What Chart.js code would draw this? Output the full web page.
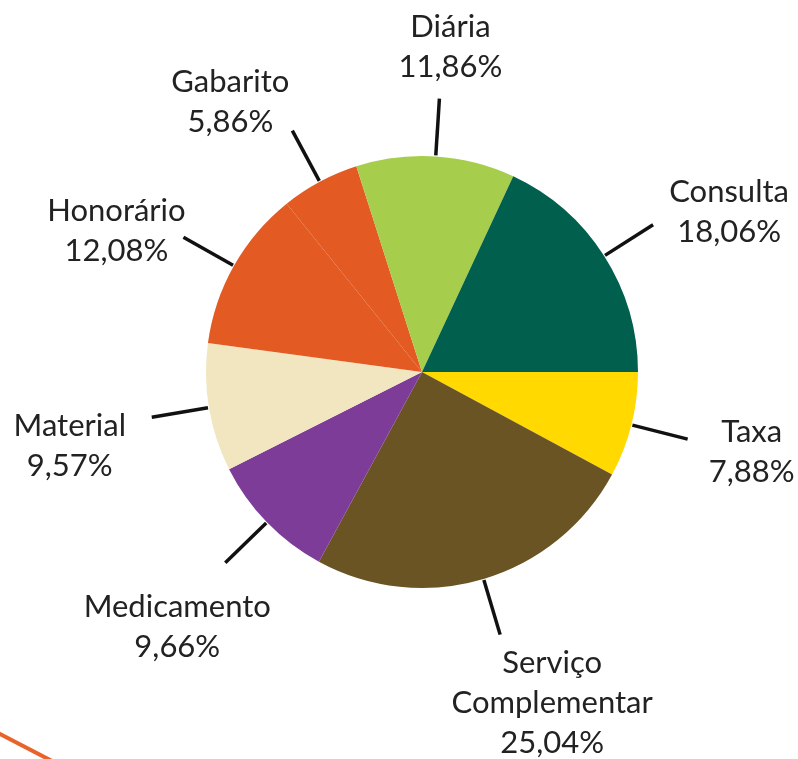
<!DOCTYPE html>
<html lang="pt">
<head>
<meta charset="utf-8">
<title>Distribuição de despesas</title>
<script src="https://cdn.jsdelivr.net/npm/chart.js@4.4.1/dist/chart.umd.min.js"></script>
<style>
    html, body { margin: 0; padding: 0; background: #fff; }
    #wrap { width: 798px; height: 759px; }
</style>
</head>
<body>
<div id="wrap"><canvas id="pieChart" width="798" height="759"></canvas></div>
<script>
// categories in drawing order, clockwise from 3 o'clock
const categories = ['Taxa', 'Serviço Complementar', 'Medicamento', 'Material', 'Honorário', 'Gabarito', 'Diária', 'Consulta'];
const shares = [7.88, 25.04, 9.66, 9.57, 12.08, 5.86, 11.86, 18.06];
const shareLabels = ['7,88%', '25,04%', '9,66%', '9,57%', '12,08%', '5,86%', '11,86%', '18,06%'];
const sliceColors = ['#FFD900', '#6B5424', '#7D3C98', '#F1E6BF', '#E35A23', '#E35A23', '#A7CD4C', '#00604D'];

// text lines for each label
const labelLines = [
    ['Taxa'],
    ['Serviço', 'Complementar'],
    ['Medicamento'],
    ['Material'],
    ['Honorário'],
    ['Gabarito'],
    ['Diária'],
    ['Consulta']
];

// where each text block sits, relative to the end of its leader line
const labelOffsets = [
    [64, 13], [52, 68], [-48, 64], [-82, 29],
    [-67, -6], [-62, -29], [11, -52], [76, -13]
];

const leaderLabels = {
    id: 'leaderLabels',
    afterDraw(chart) {
        const ctx = chart.ctx;
        const arcs = chart.getDatasetMeta(0).data;
        const lineHeight = 40;
        ctx.save();
        arcs.forEach((arc, i) => {
            const p = arc.getProps(['x', 'y', 'startAngle', 'endAngle', 'outerRadius'], true);
            const mid = (p.startAngle + p.endAngle) / 2;
            const r1 = p.outerRadius + 1;
            const r2 = p.outerRadius + 58;
            const ex = p.x + Math.cos(mid) * r2;
            const ey = p.y + Math.sin(mid) * r2;

            ctx.strokeStyle = '#111';
            ctx.lineWidth = 3.5;
            ctx.beginPath();
            ctx.moveTo(p.x + Math.cos(mid) * r1, p.y + Math.sin(mid) * r1);
            ctx.lineTo(ex, ey);
            ctx.stroke();

            const lines = labelLines[i].concat([shareLabels[i]]);
            const cx = ex + labelOffsets[i][0];
            const cy = ey + labelOffsets[i][1];
            ctx.fillStyle = '#222';
            ctx.font = '31px "Lato", "Open Sans", sans-serif';
            ctx.textAlign = 'center';
            ctx.textBaseline = 'middle';
            const top = cy - (lines.length - 1) * lineHeight / 2;
            lines.forEach((t, k) => ctx.fillText(t, cx, top + k * lineHeight));
        });

        // decorative orange stroke in the corner
        ctx.strokeStyle = '#E8642A';
        ctx.lineWidth = 4;
        ctx.beginPath();
        ctx.moveTo(-2, 733);
        ctx.lineTo(52, 761);
        ctx.stroke();
        ctx.restore();
    }
};

document.addEventListener('DOMContentLoaded', function() {
    const ctx = document.getElementById('pieChart');
    new Chart(ctx, {
        type: 'pie',
        data: {
            labels: categories,
            datasets: [{
                data: shares,
                backgroundColor: sliceColors,
                borderWidth: 0
            }]
        },
        options: {
            responsive: false,
            animation: false,
            rotation: 90,
            layout: { padding: { left: 206, right: 160, top: 156, bottom: 171 } },
            plugins: {
                legend: { display: false },
                tooltip: { enabled: false }
            }
        },
        plugins: [leaderLabels]
    });
});
</script>
</body>
</html>
